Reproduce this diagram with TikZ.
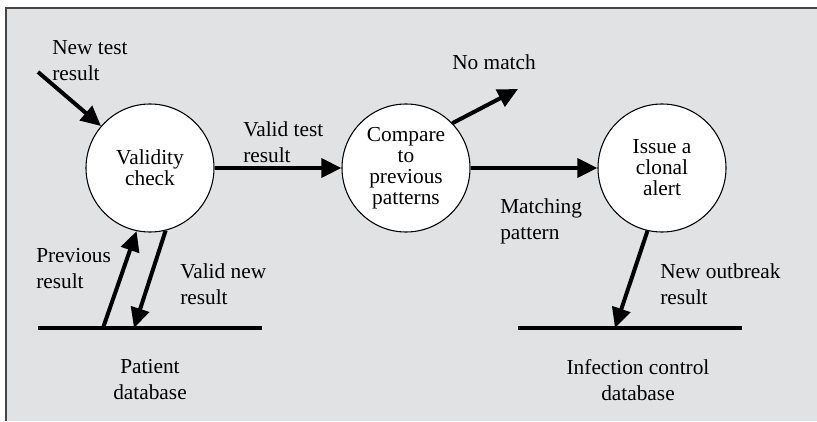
\documentclass[tikz,border=0pt]{standalone}
\usepackage{fontspec}
\setmainfont{Liberation Serif}
\usetikzlibrary{arrows.meta}
\definecolor{panelgray}{RGB}{225,226,228}
\definecolor{framegray}{RGB}{70,70,72}
\tikzset{
  proc/.style={circle,draw,line width=0.8pt,fill=white,minimum size=96pt,inner sep=0pt,
    align=center,font=\fontsize{16}{15.75}\selectfont},
  flow/.style={line width=3pt,-{Triangle[length=15pt,width=14pt]}},
  store/.style={line width=3pt},
  lbl/.style={inner sep=0pt,align=left,anchor=west,font=\fontsize{16}{19.5}\selectfont},
  dblbl/.style={inner sep=0pt,align=center,font=\fontsize{16}{19.5}\selectfont}
}
\begin{document}
\begin{tikzpicture}[x=0.75pt,y=-0.75pt]
  \useasboundingbox (0,0) rectangle (817,421);
  % panel
  \fill[panelgray] (6,8) rectangle (817,421);
  \draw[framegray,line width=1.5pt] (6,421) -- (6,8) -- (817,8);

  % processes
  \node[proc] (valid) at (150,168) {Validity\\check};
  \node[proc] (cmp) at (406,168) {Compare\\to\\previous\\patterns};
  \node[proc] (alert) at (662,168) {Issue a\\clonal\\alert};

  % data stores
  \coordinate (pdbL) at (38,328);
  \coordinate (pdbR) at (262,328);
  \coordinate (idbL) at (518,328);
  \coordinate (idbR) at (742,328);
  \draw[store] (pdbL) -- (pdbR);
  \draw[store] (idbL) -- (idbR);
  \coordinate (pdb1) at (103,328);
  \coordinate (pdb2) at (134,328);
  \coordinate (idb1) at (615,328);

  % free ends
  \coordinate (newin) at (38,72);
  \coordinate (nomatch) at (518,89);

  % flows
  \draw[flow] (newin) -- (valid);
  \draw[flow] (valid) -- (cmp);
  \draw[flow] (cmp) -- (alert);
  \draw[flow] (cmp.44) -- (nomatch);
  \draw[flow] (pdb1) -- (valid.258);
  \draw[flow] (valid.284) -- (pdb2);
  \draw[flow] (alert.257) -- (idb1);

  % labels
  \node[lbl] (lnew) at (52,61) {New test\\result};
  \node[lbl] (lvtr) at (243,142) {Valid test\\result};
  \node[lbl] (lnom) at (452,62) {No match};
  \node[lbl] (lmat) at (500,221) {Matching\\pattern};
  \node[lbl] (lprev) at (36,269) {Previous\\result};
  \node[lbl] (lvnr) at (180,284) {Valid new\\result};
  \node[lbl] (lout) at (660,284) {New outbreak\\result};
  \node[dblbl] (lpdb) at (150,380) {Patient\\database};
  \node[dblbl] (lidb) at (638,380) {Infection control\\database};
\end{tikzpicture}
\end{document}
